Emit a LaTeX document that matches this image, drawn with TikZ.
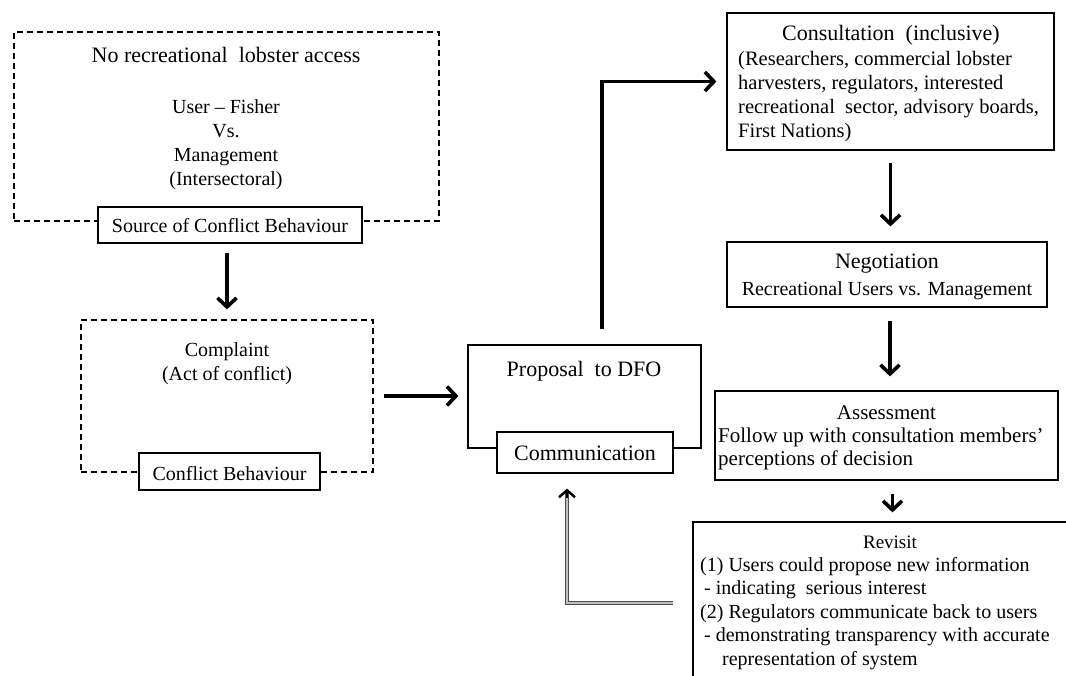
\documentclass[tikz,border=0pt]{standalone}
\usepackage{fontspec}
\setmainfont{Liberation Serif}
\usetikzlibrary{arrows.meta,calc}

\newcommand{\fbody}{\fontsize{20}{24}\selectfont}
\newcommand{\fhead}{\fontsize{22}{24}\selectfont}
\newcommand{\fass}{\fontsize{21}{23}\selectfont}
\newcommand{\fcons}{\fontsize{20.5}{24}\selectfont}
\newcommand{\frev}{\fontsize{20}{23.4}\selectfont}
\newcommand{\frevhead}{\fontsize{19}{20}\selectfont}

\tikzset{
  box/.style={draw, line width=1.2pt, inner sep=0pt, fill=white},
  dbox/.style={draw, line width=1.2pt, inner sep=0pt, dash pattern=on 6pt off 4pt},
  txt/.style={inner sep=0pt, font=\fbody, anchor=base},
  arr/.style={line width=3.6pt, -{Straight Barb[length=9pt,width=19pt]}},
  dbl/.style={line width=1.1pt, draw=black!70, double=black!25, double distance=1.3pt},
  tiponly/.style={line width=2.5pt, -{Straight Barb[length=7pt,width=16pt]}}
}

\begin{document}
\begin{tikzpicture}[x=1pt, y=-1pt]
\useasboundingbox (0,0) rectangle (1066,675);
\fill[white] (0,0) rectangle (1066,675);
\clip (0,0) rectangle (1066,675);

% multi-line text nodes are placed by the baseline of their last line

% ---- left column: source of conflict and complaint ----
\node[dbox, minimum width=425pt, minimum height=189pt] (nrla) at (226.5,126.5) {};
\node[txt, font=\fhead] (nrlat) at (226,62) {No recreational\ \ lobster access};
\node[txt, align=center] (usr) at (226,185) {User -- Fisher\\Vs.\\Management\\(Intersectoral)};
\node[box, minimum width=264pt, minimum height=36pt] (src) at (230,225) {};
\node[txt] (srct) at (230,232) {Source of Conflict Behaviour};

\node[dbox, minimum width=292pt, minimum height=152pt] (cmp) at (227,396) {};
\node[txt, align=center] (cmpt) at (227,380) {Complaint\\(Act of conflict)};
\node[box, minimum width=181pt, minimum height=37pt] (cb) at (229.5,471.5) {};
\node[txt] (cbt) at (229.5,480) {Conflict Behaviour};

% ---- proposal ----
\node[box, minimum width=233pt, minimum height=103pt] (prop) at (584.5,396.5) {};
\node[txt, font=\fhead] (propt) at (584,376) {Proposal\ \ to DFO};
\node[box, minimum width=176pt, minimum height=41pt] (comm) at (585,452.5) {};
\node[txt, font=\fhead] (commt) at (585,460) {Communication};

% ---- right column: consultation to revisit ----
\node[box, minimum width=327pt, minimum height=137pt] (cons) at (890.5,81.5) {};
\node[txt, font=\fhead] (const) at (891,40) {Consultation\ \ (inclusive)};
\node[txt, font=\fcons, anchor=base west, align=left] (consb) at (738,137)
  {(Researchers, commercial lobster\\harvesters, regulators, interested\\recreational\ \ sector, advisory boards,\\First Nations)};

\node[box, minimum width=320pt, minimum height=65pt] (neg) at (887,274.5) {};
\node[txt, font=\fhead] (negt) at (887,268) {Negotiation};
\node[txt] (negb) at (887,295) {Recreational Users vs. Management};

\node[box, minimum width=343pt, minimum height=89pt] (ass) at (886.5,435.5) {};
\node[txt, font=\fass] (asst) at (886.5,419) {Assessment};
\node[txt, font=\fass, anchor=base west, align=left] (assb) at (718,465)
  {Follow up with consultation members’\\perceptions of decision};

\node[box, minimum width=407pt, minimum height=198pt] (rev) at (896.5,621) {};
\node[txt, font=\frevhead] (revt) at (890,548) {Revisit};
\node[txt, font=\frev, anchor=base west, align=left] (revb) at (700,665)
  {(1) Users could propose new information\\
   \hspace*{4pt}- indicating\ \ serious interest\\
   (2) Regulators communicate back to users\\
   \hspace*{4pt}- demonstrating transparency with accurate\\
   \hspace*{22pt}representation of system};

% ---- connectors ----
\draw[arr, shorten <=9pt, shorten >=10pt] (src.south -| cmp.north) -- (cmp.north);
\draw[arr, shorten <=10pt, shorten >=9pt] (cmp.east) -- (cmp.east -| prop.west);
\draw[arr, shorten >=10pt] ([xshift=17.5pt,yshift=15pt]prop.north) |- (cons.west);
\draw[arr, shorten <=12pt, shorten >=15pt] (cons.south) -- (cons.south |- neg.north);
\draw[arr, shorten <=13pt, shorten >=14pt] ([xshift=3pt]neg.south) -- ([xshift=3pt]neg.south |- ass.north);
\draw[arr, shorten <=13pt, shorten >=9pt] ([xshift=6pt]ass.south) -- ([xshift=6pt]ass.south |- rev.north);

% feedback from revisit back to communication
\coordinate (fbend) at ([xshift=-18pt,yshift=-15pt]comm.south);
\draw[dbl, shorten <=19pt, shorten >=4pt] ([yshift=18pt]rev.west) -| (fbend);
\draw[tiponly] ([yshift=-9pt]fbend) -- (fbend);
\end{tikzpicture}
\end{document}
